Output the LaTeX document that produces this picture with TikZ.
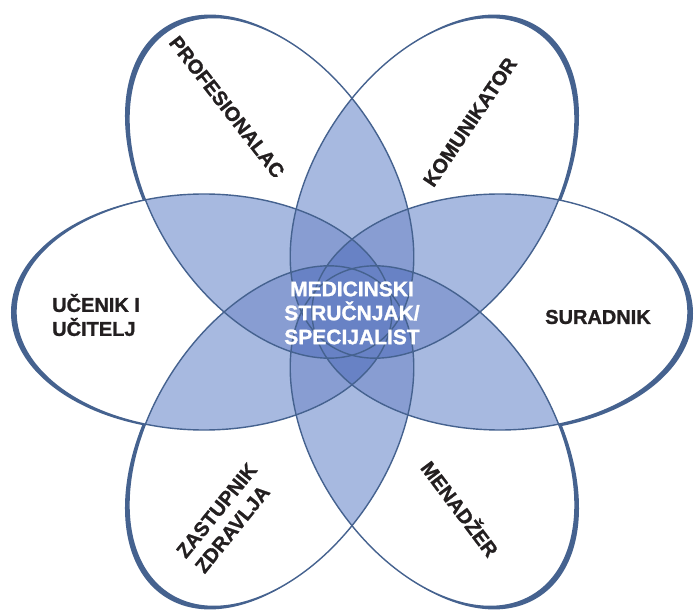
\documentclass[tikz,border=0pt]{standalone}
\usepackage{fontspec}
\setmainfont[BoldFeatures={FakeBold=1.2}]{Liberation Sans}
\definecolor{lineC}{HTML}{45628F}
\definecolor{lightC}{HTML}{A7B9E0}
\definecolor{medC}{HTML}{889DD2}
\definecolor{darkC}{HTML}{6882C5}
\definecolor{txtC}{HTML}{231F20}
\def\ED{148}
\def\EA{188}
\def\EB{118}
\def\angof#1{\ifcase#1 0\or 57\or 123\or 180\or 237\or 303\fi}
\def\oxof#1{\ifcase#1 5\or 4\or -4\or -5\or -4\or 4\fi}
\def\oyof#1{\ifcase#1 -1.5\or 3\or 3\or -0.5\or -3\or -3\fi}
\tikzset{
  lbl/.style={text=txtC, font=\bfseries\fontsize{20}{24}\selectfont, inner sep=0pt},
  clbl/.style={text=white, font=\bfseries\fontsize{21}{24}\selectfont, inner sep=0pt, align=center},
  outl/.style={draw=lineC, line width=1.4pt}
}
\begin{document}
\begin{tikzpicture}[x=1pt,y=1pt]
\useasboundingbox (-352,-299) rectangle (345,312);
\fill[white] (-352,-299) rectangle (345,312);
% shadow crescents
\foreach \i in {0,...,5}{
  \begin{scope}[shift={(\oxof{\i},\oyof{\i})}]
    \fill[lineC, rotate=\angof{\i}] (\ED pt,0) ellipse [x radius=\EA pt, y radius=\EB pt];
  \end{scope}
}
% white ellipses
\foreach \i in {0,...,5}{
  \fill[white, rotate=\angof{\i}] (\ED pt,0) ellipse [x radius=\EA pt, y radius=\EB pt];
}
% two-fold overlaps
\foreach \i in {0,...,5}{
  \foreach \j in {0,...,5}{
    \ifnum\j>\i
    \begin{scope}
      \clip[rotate=\angof{\i}] (\ED pt,0) ellipse [x radius=\EA pt, y radius=\EB pt];
      \fill[lightC, rotate=\angof{\j}] (\ED pt,0) ellipse [x radius=\EA pt, y radius=\EB pt];
    \end{scope}
    \fi
  }
}
% three-fold overlaps
\foreach \i in {0,...,5}{
  \foreach \j in {0,...,5}{
    \foreach \k in {0,...,5}{
      \ifnum\j>\i \ifnum\k>\j
      \begin{scope}
        \clip[rotate=\angof{\i}] (\ED pt,0) ellipse [x radius=\EA pt, y radius=\EB pt];
        \clip[rotate=\angof{\j}] (\ED pt,0) ellipse [x radius=\EA pt, y radius=\EB pt];
        \fill[medC, rotate=\angof{\k}] (\ED pt,0) ellipse [x radius=\EA pt, y radius=\EB pt];
      \end{scope}
      \fi\fi
    }
  }
}
% four-fold overlaps
\foreach \i in {0,...,5}{
  \foreach \j in {0,...,5}{
    \foreach \k in {0,...,5}{
      \foreach \m in {0,...,5}{
        \ifnum\j>\i \ifnum\k>\j \ifnum\m>\k
        \begin{scope}
          \clip[rotate=\angof{\i}] (\ED pt,0) ellipse [x radius=\EA pt, y radius=\EB pt];
          \clip[rotate=\angof{\j}] (\ED pt,0) ellipse [x radius=\EA pt, y radius=\EB pt];
          \clip[rotate=\angof{\k}] (\ED pt,0) ellipse [x radius=\EA pt, y radius=\EB pt];
          \fill[darkC, rotate=\angof{\m}] (\ED pt,0) ellipse [x radius=\EA pt, y radius=\EB pt];
        \end{scope}
        \fi\fi\fi
      }
    }
  }
}
% outlines
\foreach \i in {0,...,5}{
  \draw[outl, rotate=\angof{\i}] (\ED pt,0) ellipse [x radius=\EA pt, y radius=\EB pt];
}
% labels
\node[clbl] (center) at (0,-1) {MEDICINSKI\\STRUČNJAK/\\SPECIJALIST};
\node[lbl] (sur) at (246,-5) {SURADNIK};
\node[lbl, anchor=west, align=left] (uc) at (-300,-3) {UČENIK I\\UČITELJ};
\node[lbl, rotate=-52] (prof) at (-125,205) {PROFESIONALAC};
\node[lbl, rotate=56] (kom) at (118,190) {KOMUNIKATOR};
\node[lbl, rotate=-53] (men) at (109,-196) {MENADŽER};
\node[lbl, rotate=51, align=left] (zas) at (-126,-206) {ZASTUPNIK\\ZDRAVLJA};
\end{tikzpicture}
\end{document}
